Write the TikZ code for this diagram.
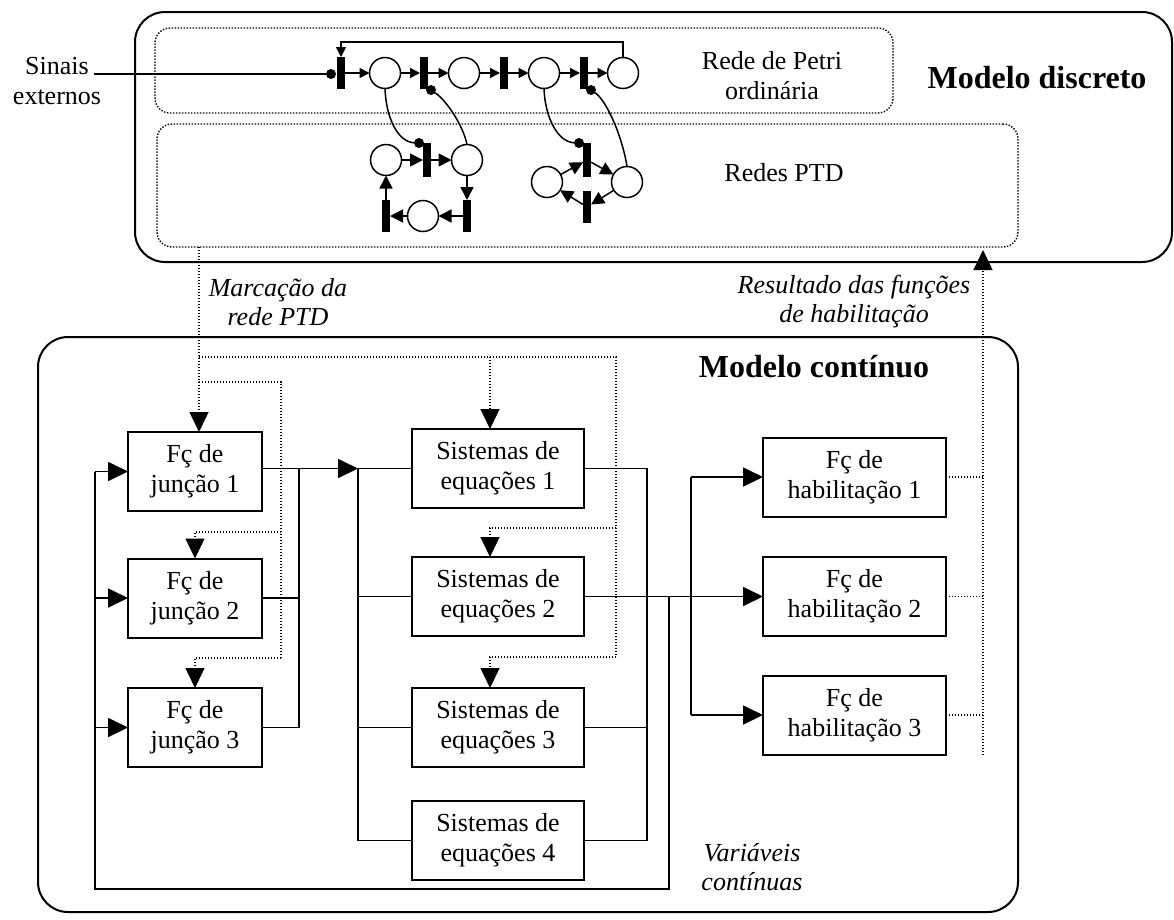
\documentclass[tikz,border=0pt]{standalone}
\usepackage{fontspec}
\setmainfont{Liberation Serif}
\usetikzlibrary{arrows.meta,calc}

\begin{document}
\begin{tikzpicture}[x=1pt,y=-1pt,
  every node/.style={inner sep=0pt, outer sep=0pt},
  txt/.style={font=\fontsize{26}{30}\selectfont, align=center},
  lbl/.style={font=\fontsize{26}{29}\selectfont\itshape, align=center},
  ttl/.style={font=\fontsize{32}{36}\selectfont\bfseries},
  container/.style={draw, line width=2pt, rounded corners=30pt},
  region/.style={draw, dotln, rounded corners=15pt},
  blk/.style={draw, line width=2pt, minimum height=79pt, txt},
  wire/.style={line width=1.8pt},
  dotln/.style={line width=1.4pt, dash pattern=on 1.4pt off 1.6pt},
  big/.style={-{Triangle[length=20pt,width=19pt]}},
  pl/.style={draw, circle, line width=1.5pt, minimum size=31pt},
  tr/.style={fill, minimum width=8pt},
  tokn/.style={fill, circle, minimum size=10pt},
  pn/.style={line width=1.5pt},
  sm/.style={-{Triangle[length=10pt,width=10pt]}},
  md/.style={-{Triangle[length=13pt,width=13pt]}},
]
\useasboundingbox (0,0) rectangle (1174,919);

% ---------- containers ----------
\node[container, minimum width=1037pt, minimum height=250pt] (disc) at (653.5,137) {};
\node[container, minimum width=980pt, minimum height=575pt] (cont) at (528,624.5) {};
\node[region, minimum width=738pt, minimum height=85pt] (ordbox) at (524,70.5) {};
\node[region, minimum width=861pt, minimum height=123pt] (ptdbox) at (587.5,185.5) {};

% ---------- titles and labels ----------
\node[ttl] (tdisc) at (1037,78) {Modelo discreto};
\node[ttl] (tcont) at (814,367) {Modelo contínuo};
\node[txt] (tord) at (772,76) {Rede de Petri\\ordinária};
\node[txt] (tptd) at (784,173) {Redes PTD};
\node[txt] (tsin) at (57,81) {Sinais\\externos};
\node[lbl] (tmar) at (278,302) {Marcação da\\rede PTD};
\node[lbl] (tres) at (854,302) {Resultado das funções\\de habilitação};
\node[lbl] (tvar) at (752,867) {Variáveis\\contínuas};

% ---------- ordinary Petri net ----------
\node[tokn] (d0) at (331,74) {};
\node[tr, minimum height=32pt] (t1) at (341,73) {};
\node[pl] (p1) at (385,73) {};
\node[tr, minimum height=32pt] (t2) at (424,73) {};
\node[tokn] (d2) at (431,90) {};
\node[pl] (p2) at (464,73) {};
\node[tr, minimum height=32pt] (t3) at (504,73) {};
\node[pl] (p3) at (544,73) {};
\node[tr, minimum height=32pt] (t4) at (584,73) {};
\node[tokn] (d4) at (591,90) {};
\node[pl] (p4) at (623,73) {};

\coordinate (sig) at (94,74);
\coordinate (fb) at (341,42);
\draw[pn] (sig) -- (d0);
\draw[pn,sm] (p4.north) |- (fb) -- (t1.north);
\draw[pn,sm] (t1) -- (p1);
\draw[pn,sm] (p1) -- (t2);
\draw[pn,sm] (t2) -- (p2);
\draw[pn,sm] (p2) -- (t3);
\draw[pn,sm] (t3) -- (p3);
\draw[pn,sm] (p3) -- (t4);
\draw[pn,sm] (t4) -- (p4);

% ---------- PTD nets ----------
\node[pl] (pA) at (386,160) {};
\node[tr, minimum height=34pt] (T1) at (427,160) {};
\node[tokn] (dT1) at (419,143) {};
\node[pl] (pB) at (467,160) {};
\node[tr, minimum height=32pt] (T2) at (467,216) {};
\node[pl] (pC) at (423,216) {};
\node[tr, minimum height=32pt] (T3) at (386,216) {};

\draw[pn,md] (pA) -- (T1);
\draw[pn,md] (T1) -- (pB);
\draw[pn,md] (pB) -- (T2);
\draw[pn,md] (T2) -- (pC);
\draw[pn,md] (pC) -- (T3);
\draw[pn,md] (T3) -- (pA);

\node[tr, minimum height=34pt] (T4) at (587,160) {};
\node[tokn] (dT4) at (579,143) {};
\node[pl] (pD) at (547,182) {};
\node[pl] (pE) at (627,182) {};
\node[tr, minimum height=32pt] (T5) at (587,207) {};

\draw[pn,md] (pD) -- (T4);
\draw[pn,md] (T4) -- (pE);
\draw[pn,md] (pE) -- (T5);
\draw[pn,md] (T5) -- (pD);

% links between the two layers of the discrete model
\draw[pn] (p1.south) .. controls (386,118) and (398,142) .. (dT1);
\draw[pn] (d2) .. controls (446,100) and (463,125) .. (pB.north);
\draw[pn] (p3.south) .. controls (545,118) and (558,142) .. (dT4);
\draw[pn] (d4) .. controls (606,100) and (622,135) .. (pE.north);

% ---------- continuous model blocks ----------
\node[blk, minimum width=134pt] (J1) at (195,471.5) {Fç de\\junção 1};
\node[blk, minimum width=134pt] (J2) at (195,598) {Fç de\\junção 2};
\node[blk, minimum width=134pt] (J3) at (195,727.5) {Fç de\\junção 3};

\node[blk, minimum width=172pt] (S1) at (498,468.5) {Sistemas de\\equações 1};
\node[blk, minimum width=172pt] (S2) at (498,596.5) {Sistemas de\\equações 2};
\node[blk, minimum width=172pt] (S3) at (498,727.5) {Sistemas de\\equações 3};
\node[blk, minimum width=172pt] (S4) at (498,840.5) {Sistemas de\\equações 4};

\node[blk, minimum width=183pt] (H1) at (854.5,477) {Fç de\\habilitação 1};
\node[blk, minimum width=183pt] (H2) at (854.5,596.5) {Fç de\\habilitação 2};
\node[blk, minimum width=183pt] (H3) at (854.5,715) {Fç de\\habilitação 3};

% bus positions
\coordinate (xL) at (95,0);
\coordinate (xJ) at (299,0);
\coordinate (xS) at (358,0);
\coordinate (xR) at (647,0);
\coordinate (xV) at (669,0);
\coordinate (xH) at (691,0);
\coordinate (yB) at (0,889);

% junction functions -> equation systems
\draw[wire,big] (J1.east |- S1.west) -- (xS |- S1.west);
\draw[wire] (xS |- S1.west) -- (S1.west);
\draw[wire] (J2.east) -- (xJ |- J2.east);
\draw[wire] (J3.east) -- (xJ |- J3.east);
\draw[wire] (xJ |- S1.west) -- (xJ |- J3.east);
\draw[wire] (xS |- S1.west) -- (xS |- S4.west);
\draw[wire] (xS |- S2.west) -- (S2.west);
\draw[wire] (xS |- S3.west) -- (S3.west);
\draw[wire] (xS |- S4.west) -- (S4.west);

% equation systems -> enabling functions
\draw[wire] (S1.east) -- (xR |- S1.east) -- (xR |- S4.east) -- (S4.east);
\draw[wire] (S3.east) -- (xR |- S3.east);
\draw[wire,big] (S2.east) -- (H2.west);
\draw[wire] (xH |- H1.west) -- (xH |- H3.west);
\draw[wire,big] (xH |- H1.west) -- (H1.west);
\draw[wire,big] (xH |- H3.west) -- (H3.west);

% continuous variables fed back to the junction functions
\draw[wire] (xV |- S2.east) -- (xV |- yB) -- (xL |- yB) -- (xL |- J1.west);
\draw[wire,big] (xL |- J1.west) -- (J1.west);
\draw[wire,big] (xL |- J2.west) -- (J2.west);
\draw[wire,big] (xL |- J3.west) -- (J3.west);

% ---------- PTD marking distribution ----------
\coordinate (xM) at (199,0);
\coordinate (xP) at (281,0);
\coordinate (xa) at (490,0);
\coordinate (xQ) at (616,0);
\coordinate (y1) at (0,357);
\coordinate (y2) at (0,382);
\coordinate (yp2) at (0,532);
\coordinate (yp3) at (0,658);
\coordinate (yq2) at (0,528);
\coordinate (yq3) at (0,657);

\draw[dotln,big] (xM |- ptdbox.south) -- (xM |- J1.north);
\draw[dotln] (xM |- y1) -- (xQ |- y1) -- (xQ |- yq3);
\draw[dotln,big] (xa |- y1) -- (xa |- S1.north);
\draw[dotln,big] (xQ |- yq2) -| (xa |- S2.north);
\draw[dotln,big] (xQ |- yq3) -| (xa |- S3.north);
\draw[dotln] (xM |- y2) -- (xP |- y2) -- (xP |- yp3);
\draw[dotln,big] (xP |- yp2) -| (J2.north);
\draw[dotln,big] (xP |- yp3) -| (J3.north);

% ---------- enabling results back to the discrete model ----------
\coordinate (xD) at (983,0);
\coordinate (yE) at (0,755);
\draw[dotln] (H1.east) -- (xD |- H1.east);
\draw[dotln] (H2.east) -- (xD |- H2.east);
\draw[dotln] (H3.east) -- (xD |- H3.east);
\draw[dotln,big] (xD |- yE) -- ($(xD |- ptdbox.south)+(0,3)$);

\end{tikzpicture}
\end{document}
